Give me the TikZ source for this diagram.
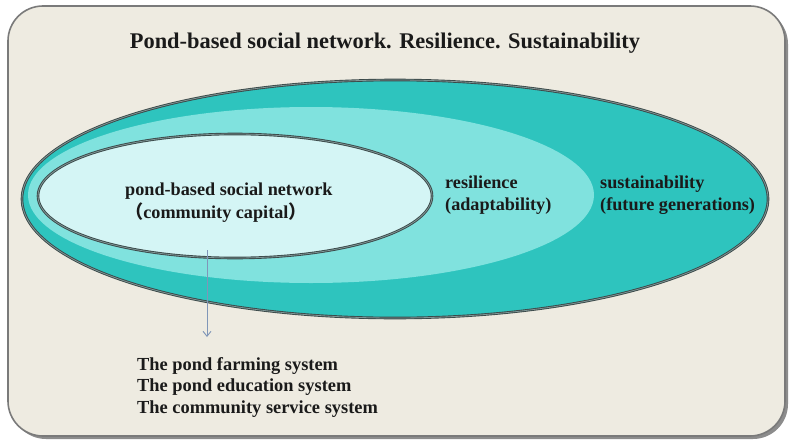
\documentclass[tikz,border=0pt]{standalone}
\usepackage{fontspec}
\setmainfont{Liberation Serif}
\newfontfamily\cjk{Noto Sans CJK SC}
\usetikzlibrary{shapes.geometric,arrows.meta}
\definecolor{panelfill}{HTML}{EEEBE1}
\definecolor{panelline}{HTML}{7A7A7A}
\definecolor{teal1}{HTML}{2EC4BE}
\definecolor{teal2}{HTML}{80E2DE}
\definecolor{teal3}{HTML}{D4F5F5}
\definecolor{rimdark}{HTML}{3A4848}
\definecolor{rimlight}{HTML}{7F9696}
\definecolor{arrowblue}{HTML}{8096B8}
\definecolor{txt}{HTML}{1A1A1A}
\tikzset{
  rim/.style={draw=rimdark, line width=0.9pt, double=rimlight, double distance=0.8pt},
  oval/.style={ellipse, inner sep=0pt},
  lbl/.style={font=\bfseries\fontsize{18.2}{22}\selectfont, text=txt, align=left, inner sep=0pt, anchor=base west},
}
\begin{document}
\begin{tikzpicture}[x=1pt,y=-1pt]
\useasboundingbox[fill=white] (0,0) rectangle (795,447);
% panel
\fill[black!45, rounded corners=35pt] (11,9) rectangle (788,439);
\draw[fill=panelfill, draw=panelline, line width=1.6pt, rounded corners=35pt] (8,6) rectangle (785,436);
\node[font=\bfseries\fontsize{22.4}{26}\selectfont, text=txt, inner sep=0pt, anchor=base] (title) at (385,48) {Pond-based social network. Resilience. Sustainability};
% ellipses
\node[oval, rim, fill=teal1, minimum width=746pt, minimum height=238pt] (sust) at (395,199) {};
\node[oval, fill=teal2, minimum width=566pt, minimum height=176pt] (resil) at (311,195) {};
\node[oval, rim, fill=teal3, minimum width=394pt, minimum height=124pt] (pond) at (235,196) {};
% labels (base anchor = baseline of the last line)
\node[lbl, font=\bfseries\fontsize{18.2}{23}\selectfont] (pondlbl) at (125,218) {pond-based social network\\{\cjk （}community capital{\cjk ）}};
\node[lbl] (resillbl) at (445,210) {resilience\\(adaptability)};
\node[lbl] (sustlbl) at (600,210) {sustainability\\(future generations)};
% list
\node[lbl, font=\bfseries\fontsize{18.4}{21.5}\selectfont] (list) at (137,413) {The pond farming system\\The pond education system\\The community service system};
\coordinate (astart) at (207,250);
\coordinate (aend) at (207,337);
\draw[arrowblue, line width=0.9pt, -{Straight Barb[length=5pt,width=8pt]}] (astart) -- (aend);
\end{tikzpicture}
\end{document}
